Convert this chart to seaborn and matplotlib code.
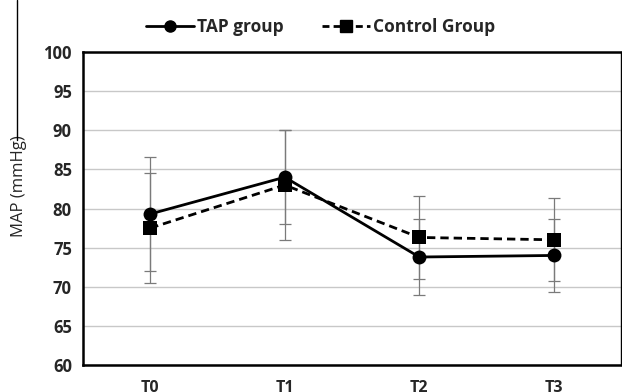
import matplotlib.pyplot as plt
import pandas as pd
import seaborn as sns
from matplotlib.lines import Line2D

times = ["T0", "T1", "T2", "T3"]
tap_mean = [79.3, 84.0, 73.8, 74.0]
tap_sd = [7.3, 6.0, 4.8, 4.7]
ctrl_mean = [77.5, 83.0, 76.3, 76.0]
ctrl_sd = [7.0, 7.0, 5.3, 5.3]
groups = ["TAP group", "Control Group"]

sns.set_style("white")
plt.rcParams["font.family"] = ["Open Sans", "DejaVu Sans"]

df = pd.DataFrame({
    "x": list(range(4)) * 2,
    "MAP": tap_mean + ctrl_mean,
    "group": [groups[0]] * 4 + [groups[1]] * 4,
})

fig = plt.figure(figsize=(6.22, 3.92), dpi=100)
ax = fig.add_axes([83 / 622, 27 / 392, 538 / 622, 313 / 392])

# error bars first, so the markers sit on top
for i, (m, s) in enumerate(zip(tap_mean, tap_sd)):
    ax.errorbar(i, m, yerr=s, color="#7a7a7a", lw=0.9, capsize=4, capthick=0.9, zorder=2)
for i, (m, s) in enumerate(zip(ctrl_mean, ctrl_sd)):
    ax.errorbar(i, m, yerr=s, color="#7a7a7a", lw=0.9, capsize=4, capthick=0.9, zorder=2)

sns.lineplot(data=df, x="x", y="MAP", hue="group", style="group",
             palette=["black", "black"], markers={groups[0]: "o", groups[1]: "s"},
             dashes={groups[0]: "", groups[1]: (3, 1.8)},
             markersize=10, lw=2, markeredgewidth=0, ax=ax, legend=False, zorder=3)

ax.set_xlim(-0.5, 3.5)
ax.set_ylim(60, 100)
ax.set_yticks(range(60, 101, 5))
ax.set_xticks([-0.5, 0.5, 1.5, 2.5, 3.5])
ax.set_xticklabels([])
ax.set_xticks(range(4), minor=True)
ax.set_xticklabels(times, minor=True, fontweight="bold", fontsize=11.5)
ax.tick_params(axis="x", which="minor", length=0, pad=11)
ax.tick_params(axis="x", which="major", length=5, width=1.5, direction="out", color="black")
ax.tick_params(axis="y", length=6, width=1.5, direction="out", color="black", labelsize=12, pad=2)
for lab in ax.get_yticklabels():
    lab.set_fontweight("bold")
ax.yaxis.grid(True, color="#c8c8c8", lw=1)
ax.set_axisbelow(True)
for side in ["left", "bottom", "top", "right"]:
    ax.spines[side].set_color("black")
    ax.spines[side].set_linewidth(1.8)
ax.spines["right"].set_linewidth(1.0)
ax.set_xlabel("")
ax.set_ylabel("MAP (mmHg)", fontsize=12)
ax.yaxis.set_label_coords(-0.105, 0.57)

handles = [
    Line2D([], [], color="black", lw=2, marker="o", markersize=8, label=groups[0]),
    Line2D([], [], color="black", lw=2, ls=(0, (2.5, 1.5)), marker="s", markersize=8, label=groups[1]),
]
fig.legend(handles=handles, loc="upper center", bbox_to_anchor=(0.515, 0.995), ncol=2,
           frameon=False, handlelength=2.8, handletextpad=0.15, columnspacing=2.2,
           prop={"weight": "bold", "size": 12.5})

# thin stray frame edge on the left
fig.add_artist(Line2D([17 / 622, 17 / 622], [1, 1 - 140 / 392], color="black", lw=1))

fig.savefig("out.png", dpi=100)
